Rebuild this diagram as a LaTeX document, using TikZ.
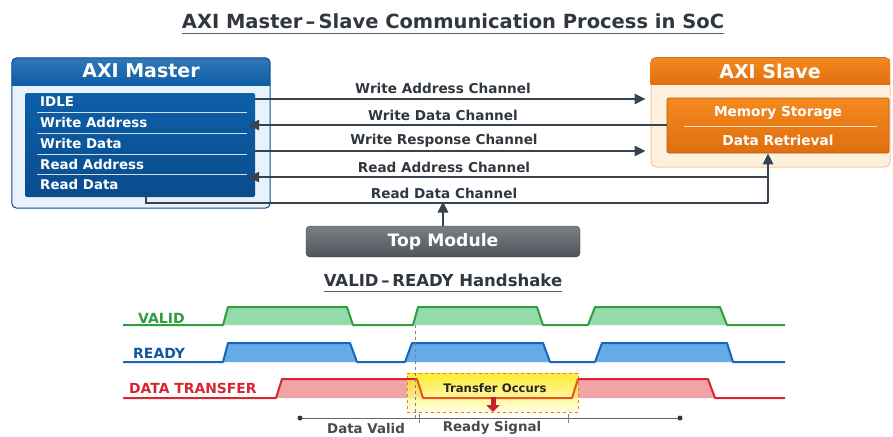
\documentclass[tikz,border=0pt]{standalone}
\usepackage{fontspec}
\setmainfont{DejaVu Sans}
\usetikzlibrary{arrows.meta}

\definecolor{inkdark}{HTML}{30373E}
\definecolor{chancol}{HTML}{37434F}
\definecolor{mblue}{HTML}{0D5FA8}
\definecolor{mbluedark}{HTML}{0A4C8C}
\definecolor{mbluelight}{HTML}{E9F2FB}
\definecolor{sorange}{HTML}{F58A1F}
\definecolor{sorangedark}{HTML}{E06E10}
\definecolor{sbeige}{HTML}{FDF1DE}
\definecolor{validline}{HTML}{2E9E3E}
\definecolor{validfill}{HTML}{93DBAA}
\definecolor{readyline}{HTML}{1565C0}
\definecolor{readyfill}{HTML}{66AAE8}
\definecolor{xferline}{HTML}{D9262E}
\definecolor{xferfill}{HTML}{F1A3A6}
\definecolor{troughline}{HTML}{E8541A}
\definecolor{topgray}{HTML}{7A7F86}
\definecolor{topgraydark}{HTML}{50555B}

\tikzset{
  chan/.style={draw=chancol, line width=2.6pt, -{Triangle[length=11pt,width=10pt]}},
  chanplain/.style={draw=chancol, line width=2.6pt},
  chanlabel/.style={font=\bfseries\fontsize{13.6}{15}\selectfont, text=inkdark, inner sep=0pt},
  item/.style={font=\bfseries\fontsize{13.4}{15}\selectfont, text=white, anchor=west, inner sep=0pt},
  sitem/.style={font=\bfseries\fontsize{13.7}{15}\selectfont, text=white, inner sep=0pt},
  head/.style={font=\bfseries\fontsize{19}{22}\selectfont, text=white, inner sep=0pt},
  siglabel/.style={font=\bfseries\fontsize{14}{15}\selectfont, anchor=west, inner sep=0pt},
  botlabel/.style={font=\bfseries\fontsize{13.4}{15}\selectfont, text=inkdark!90, inner sep=0pt},
  wave/.style={line width=2pt, line join=round},
}

\begin{document}
\begin{tikzpicture}[x=1pt, y=-1pt]
  \useasboundingbox (0,0) rectangle (893,436);

  % title
  \node[font=\bfseries\fontsize{19.5}{23}\selectfont, text=inkdark, inner sep=0pt] (title) at (453,21) {AXI Master\,--\,Slave Communication Process in SoC};
  \draw[inkdark!80, line width=1pt] ([yshift=-5pt]title.south west) -- ([yshift=-5pt]title.south east);

  % AXI master
  \node[fill=mbluelight, rounded corners=5pt, minimum width=258pt, minimum height=150pt] (master) at (141,133) {};
  \begin{scope}
    \clip[rounded corners=5pt] (master.north west) rectangle (master.south east);
    \fill[top color=mblue!85, bottom color=mblue] (master.north west) rectangle ([yshift=-28pt]master.north east);
  \end{scope}
  \draw[mbluedark, line width=1pt, rounded corners=5pt] (master.north west) rectangle (master.south east);
  \node[head] (mhead) at (141,71) {AXI Master};
  \node[top color=mblue, bottom color=mbluedark, rounded corners=2pt, minimum width=230pt, minimum height=104pt] (mlist) at (140,145) {};
  \node[item] (idle)  at (40,102) {IDLE};
  \node[item] (waddr) at (40,123) {Write Address};
  \node[item] (wdata) at (40,144) {Write Data};
  \node[item] (raddr) at (40,165) {Read Address};
  \node[item] (rdata) at (40,185) {Read Data};
  \foreach \y in {112.5,133.5,154,174.5}
    \draw[white!80!mblue, line width=0.8pt] (37,\y) -- (247,\y);

  % AXI slave
  \node[fill=sbeige, draw=sorange!45, line width=1pt, rounded corners=5pt, minimum width=239pt, minimum height=109pt] (slave) at (770.5,112.5) {};
  \begin{scope}
    \clip[rounded corners=5pt] (slave.north west) rectangle (slave.south east);
    \fill[top color=sorange, bottom color=sorangedark] (slave.north west) rectangle ([yshift=-27pt]slave.north east);
  \end{scope}
  \node[head] (shead) at (770,71) {AXI Slave};
  \node[top color=sorange, bottom color=sorangedark, draw=sorangedark!80!black, line width=0.6pt, rounded corners=2pt, minimum width=222pt, minimum height=55pt] (slist) at (778,125.5) {};
  \node[sitem] (mem)  at (778,113) {Memory Storage};
  \node[sitem] (retr) at (778,140) {Data Retrieval};
  \draw[white!70!sorange, line width=0.8pt] (684,126.5) -- (877,126.5);

  % channel rows
  \coordinate (wa) at (0,99);
  \coordinate (wd) at (0,125);
  \coordinate (wr) at (0,151);
  \coordinate (ra) at (0,177);
  \coordinate (rd) at (0,203);
  \coordinate (upx) at (768,0);
  \coordinate (rdx) at (146,0);

  \draw[chan, shorten >=5pt] (mlist.east |- wa) -- (slave.west |- wa);
  \draw[chan, shorten >=-7pt] (slist.west |- wd) -- (mlist.east |- wd);
  \draw[chan, shorten >=5pt] (mlist.east |- wr) -- (slave.west |- wr);
  \draw[chan, shorten >=-7pt] (upx |- ra) -- (mlist.east |- ra);
  \draw[chanplain] (rdx |- mlist.south) |- (upx |- rd);
  \draw[chan] (upx |- rd) -- (upx |- slist.south);

  \node[chanlabel] (walbl) at (443,88)  {Write Address Channel};
  \node[chanlabel] (wdlbl) at (443,115) {Write Data Channel};
  \node[chanlabel] (wrlbl) at (444,141) {Write Response Channel};
  \node[chanlabel] (ralbl) at (444,167) {Read Address Channel};
  \node[chanlabel] (rdlbl) at (444,193) {Read Data Channel};

  % top module
  \node[top color=topgray, bottom color=topgraydark, draw=topgraydark!80!black, rounded corners=4pt, minimum width=274pt, minimum height=31pt, font=\bfseries\fontsize{17.2}{20}\selectfont, text=white] (top) at (443,241.5) {Top Module};
  \draw[chan, shorten >=-1.5pt] (top.north) -- (top.north |- rd);

  % handshake
  \node[font=\bfseries\fontsize{16.5}{19}\selectfont, text=inkdark, inner sep=0pt] (hstitle) at (443,280) {VALID\,--\,READY Handshake};
  \draw[inkdark!80, line width=1pt] ([yshift=-5pt]hstitle.south west) -- ([yshift=-5pt]hstitle.south east);

  % VALID
  \foreach \a/\b/\c/\d in {223/228/347/353, 413/418/537/543, 588/595/720/727}
    \fill[validfill] (\a,325) -- (\b,307) -- (\c,307) -- (\d,325) -- cycle;
  \draw[wave, validline] (123,325)
    \foreach \a/\b/\c/\d in {223/228/347/353, 413/418/537/543, 588/595/720/727}
      { -- (\a,325) -- (\b,307) -- (\c,307) -- (\d,325) } -- (785,325);
  \node[siglabel, text=validline] (validlbl) at (138,318) {VALID};

  % READY
  \foreach \a/\b/\c/\d in {223/228/350/357, 405/412/543/550, 595/602/727/733}
    \fill[readyfill] (\a,362) -- (\b,343) -- (\c,343) -- (\d,362) -- cycle;
  \draw[wave, readyline] (123,362)
    \foreach \a/\b/\c/\d in {223/228/350/357, 405/412/543/550, 595/602/727/733}
      { -- (\a,362) -- (\b,343) -- (\c,343) -- (\d,362) } -- (785,362);
  \node[siglabel, text=readyline!85!black] (readylbl) at (133,353) {READY};

  % DATA TRANSFER
  \fill[xferfill] (276,398) -- (282,379) -- (417,379) -- (423,398) -- cycle;
  \fill[xferfill] (572,398) -- (578,379) -- (708,379) -- (715,398) -- cycle;
  \node[draw=orange!70!brown, dashed, line width=0.8pt, top color=yellow!80!orange, bottom color=yellow!15, fill opacity=0.8, draw opacity=1, minimum width=171pt, minimum height=39pt, inner sep=0pt] (xbox) at (492.5,392.5) {};
  \draw[wave, xferline] (123,398) -- (276,398) -- (282,379) -- (417,379);
  \draw[wave, troughline] (417,379) -- (423,398) -- (572,398) -- (578,379);
  \draw[wave, xferline] (578,379) -- (708,379) -- (715,398) -- (785,398);
  \node[siglabel, font=\bfseries\fontsize{13.9}{15}\selectfont, text=xferline] (xferlbl) at (129,388) {DATA TRANSFER};
  \node[font=\bfseries\fontsize{11.7}{14}\selectfont, text=black!85, inner sep=0pt] (occurs) at (495,388) {Transfer Occurs};
  \coordinate (arrtop) at (493,397);
  \coordinate (arrtip) at (493,412);
  \draw[xferline!90!black, line width=5pt, -{Triangle[length=7pt,width=13pt]}] (arrtop) -- (arrtip);

  % marker line and timeline
  \draw[gray, dashed, line width=0.7pt] (415,325) -- (415,420);
  \coordinate (tl) at (300,418);
  \coordinate (tr) at (680,418);
  \draw[gray!80!black, line width=0.8pt] (tl) -- (tr);
  \fill[inkdark] (tl) circle (2.5pt) (tr) circle (2.5pt);
  \draw[gray, line width=0.6pt] (419,414) -- (419,423) (568,414) -- (568,423);
  \node[botlabel] (dvlbl) at (366,428) {Data Valid};
  \node[botlabel] (rslbl) at (492,428) {Ready Signal};
\end{tikzpicture}
\end{document}
